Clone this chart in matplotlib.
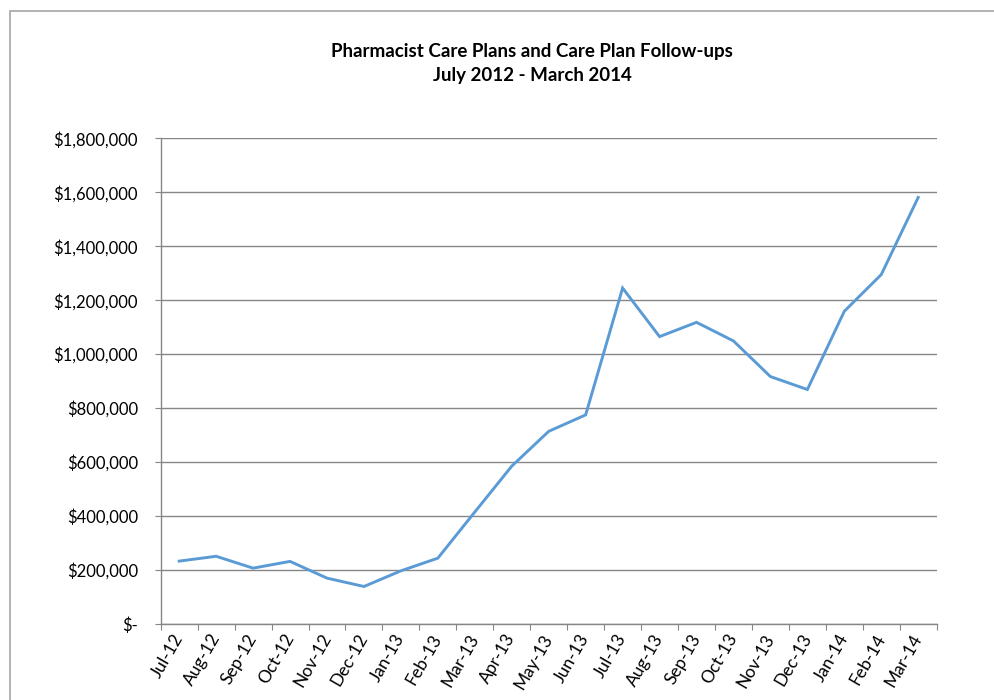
import matplotlib
matplotlib.use("Agg")
import matplotlib.pyplot as plt
from matplotlib.ticker import FuncFormatter, FixedLocator
from matplotlib.patches import Rectangle

months = ["Jul-12", "Aug-12", "Sep-12", "Oct-12", "Nov-12", "Dec-12", "Jan-13",
          "Feb-13", "Mar-13", "Apr-13", "May-13", "Jun-13", "Jul-13", "Aug-13",
          "Sep-13", "Oct-13", "Nov-13", "Dec-13", "Jan-14", "Feb-14", "Mar-14"]
values = [233000, 251000, 207000, 232000, 170000, 139000, 197000,
          244000, 415000, 585000, 714000, 775000, 1245000, 1065000,
          1118000, 1049000, 917000, 869000, 1159000, 1295000, 1581000]
title_lines = ["Pharmacist Care Plans and Care Plan Follow-ups", "July 2012 - March 2014"]

plt.rcParams['font.family'] = ['Lato', 'DejaVu Sans']

W, H = 994, 700
fig = plt.figure(figsize=(W / 100, H / 100), dpi=100)
fig.patch.set_facecolor("white")

# outer chart border
fig.patches.append(Rectangle((9.5 / W, -0.05), 1.1, 1 - 11 / H + 0.05,
                             transform=fig.transFigure, fill=False,
                             edgecolor="#a6a6a6", linewidth=1.2))

ax = fig.add_axes([160.7 / W, 1 - 624 / H, (936.7 - 160.7) / W, (624 - 138.3) / H])
x = list(range(len(months)))
ax.plot(x, values, color="#5B9BD5", linewidth=2.1, solid_joinstyle="miter")

ax.set_xlim(-0.5, len(months) - 0.5)
ax.set_ylim(0, 1800000)
ax.set_yticks(range(0, 1800001, 200000))

def yfmt(v, pos):
    if v == 0:
        return "$-"
    return "${:,.0f}".format(v)
ax.yaxis.set_major_formatter(FuncFormatter(yfmt))

ax.xaxis.set_major_locator(FixedLocator([i - 0.5 for i in range(len(months) + 1)]))
ax.xaxis.set_major_formatter(FuncFormatter(lambda v, p: ""))
ax.xaxis.set_minor_locator(FixedLocator(x))
ax.set_xticklabels(months, minor=True)

ax.grid(axis="y", color="#868686", linewidth=1.0)
ax.set_axisbelow(True)
for s in ["top", "right"]:
    ax.spines[s].set_visible(False)
for s in ["left", "bottom"]:
    ax.spines[s].set_color("#868686")
    ax.spines[s].set_linewidth(1.0)

ax.tick_params(axis="y", which="major", length=4.5, color="#868686", pad=12,
               labelsize=12, labelcolor="#000000")
ax.tick_params(axis="x", which="major", length=4.5, color="#868686")
ax.tick_params(axis="x", which="minor", length=0, pad=8, labelsize=12.5)
for lbl in ax.get_xticklabels(minor=True):
    lbl.set_rotation(60)
    lbl.set_ha("right")
    lbl.set_va("center")
    lbl.set_rotation_mode("anchor")

fig.text(532 / W, 1 - 51 / H, title_lines[0], ha="center", va="center",
         fontsize=13.5, fontweight="bold")
fig.text(532 / W, 1 - 75 / H, title_lines[1], ha="center", va="center",
         fontsize=13.5, fontweight="bold")

fig.savefig("out.png", dpi=100)
